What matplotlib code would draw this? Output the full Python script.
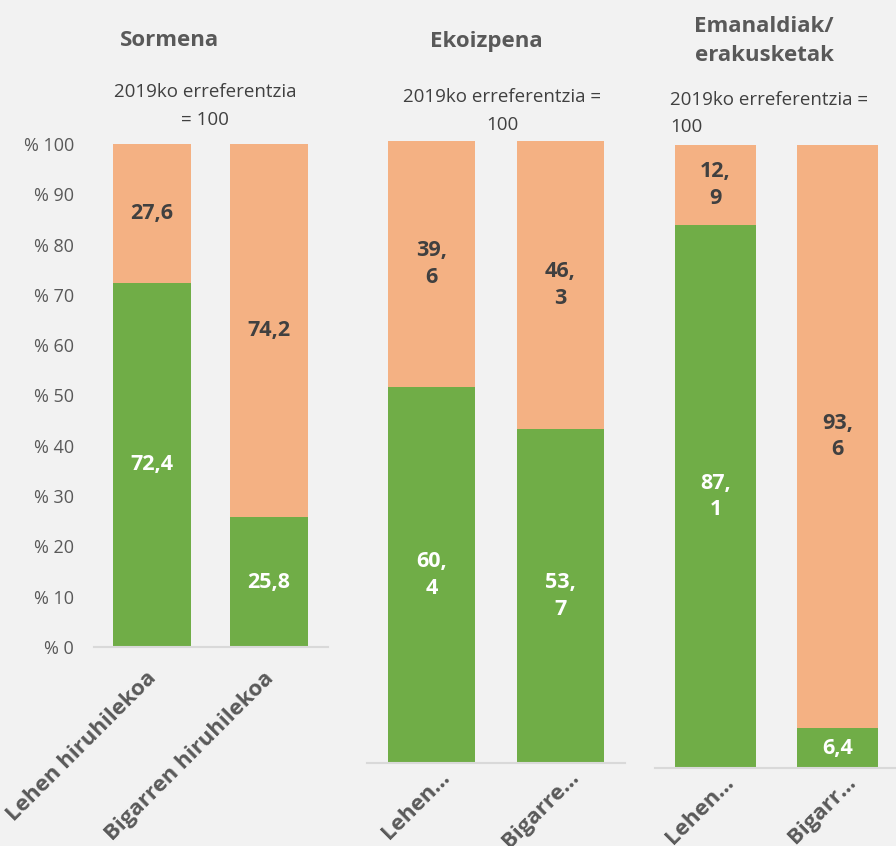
import numpy as np
import matplotlib
matplotlib.use("Agg")
import matplotlib.pyplot as plt
import matplotlib.transforms as mtransforms

plt.rcParams['font.family'] = ['Open Sans', 'DejaVu Sans']

# data (2019 = 100)
panels = ["Sormena", "Ekoizpena", "Emanaldiak/\nerakusketak"]
quarters_full = ["Lehen hiruhilekoa", "Bigarren hiruhilekoa"]
quarters_p2 = ["Lehen…", "Bigarre…"]
quarters_p3 = ["Lehen…", "Bigarr…"]

sormena_green = [72.4, 25.8]
sormena_orange = [27.6, 74.2]
ekoizpena_green = [60.4, 53.7]
ekoizpena_orange = [39.6, 46.3]
emanaldiak_green = [87.1, 6.4]
emanaldiak_orange = [12.9, 93.6]

subtitle = "2019ko erreferentzia"

GREEN = "#70AD47"
ORANGE = "#F4B183"
BG = "#F2F2F2"
GRAY = "#595959"
DARK = "#404040"

W, H = 896, 846
fig = plt.figure(figsize=(W / 100, H / 100), dpi=100, facecolor=BG)


def box(l, r, b, t):
    # pixel box -> figure fraction
    return [l / W, (H - b) / H, (r - l) / W, (b - t) / H]


def fmt(v, wrap):
    s = f"{v:.1f}".replace(".", ",")
    if wrap and len(s) > 3:
        s = s.replace(",", ",\n")
    return s


def draw(rect, green, orange, labels, wrap, yaxis, xshift, xpad):
    ax = fig.add_axes(rect)
    ax.set_facecolor(BG)
    x = np.arange(len(green))
    b1 = ax.bar(x, green, width=0.667, color=GREEN)
    b2 = ax.bar(x, orange, width=0.667, bottom=green, color=ORANGE)
    ax.bar_label(b1, labels=[fmt(v, wrap) for v in green], label_type='center',
                 color='white', fontsize=15.5, fontweight='bold', linespacing=1.35)
    ax.bar_label(b2, labels=[fmt(v, wrap) for v in orange], label_type='center',
                 color=DARK, fontsize=15.5, fontweight='bold', linespacing=1.35)
    ax.set_xlim(-0.5, len(green) - 0.5)
    ax.set_ylim(0, 100)
    for s in ['top', 'left', 'right']:
        ax.spines[s].set_visible(False)
    ax.spines['bottom'].set_color("#D9D9D9")
    ax.spines['bottom'].set_linewidth(1.5)
    ax.set_xticks(x)
    ax.set_xticklabels(labels, rotation=45, ha='right', rotation_mode='anchor',
                       fontsize=16, fontweight='bold', color=GRAY)
    ax.tick_params(axis='x', length=0, pad=xpad)
    if xshift:
        off = mtransforms.ScaledTranslation(xshift / 100, 0, fig.dpi_scale_trans)
        for t in ax.get_xticklabels():
            t.set_transform(t.get_transform() + off)
    if yaxis:
        ax.set_yticks(np.arange(0, 101, 10))
        ax.set_yticklabels([f"% {v}" for v in range(0, 101, 10)],
                           fontsize=13, color=GRAY)
        ax.tick_params(axis='y', length=0, pad=14)
    else:
        ax.set_yticks([])
    return ax


draw(box(93.5, 327.5, 647, 144), sormena_green, sormena_orange,
     quarters_full, False, True, -6, 15)
draw(box(367, 625, 763, 141), ekoizpena_green, ekoizpena_orange,
     quarters_p2, True, False, 8, 3)
draw(box(654.5, 898.5, 768, 145), emanaldiak_green, emanaldiak_orange,
     quarters_p3, True, False, 8, 3)

# panel titles
tkw = dict(fontsize=16, fontweight='bold', color=GRAY, ha='center', va='center')
fig.text(169 / W, 1 - 41 / H, panels[0], **tkw)
fig.text(486 / W, 1 - 41 / H, panels[1], **tkw)
fig.text(764 / W, 1 - 41 / H, panels[2], linespacing=1.55, **tkw)

skw = dict(fontsize=13.5, color="#404040", va='center', linespacing=1.65)
fig.text(205 / W, 1 - 106 / H, subtitle + "\n= 100", ha='center', **skw)
fig.text(502 / W, 1 - 111 / H, subtitle + " =\n100", ha='center', **skw)
fig.text(670 / W, 1 - 113.5 / H, subtitle + " =\n100", ha='left', **skw)

fig.savefig("out.png", dpi=100, facecolor=BG)
